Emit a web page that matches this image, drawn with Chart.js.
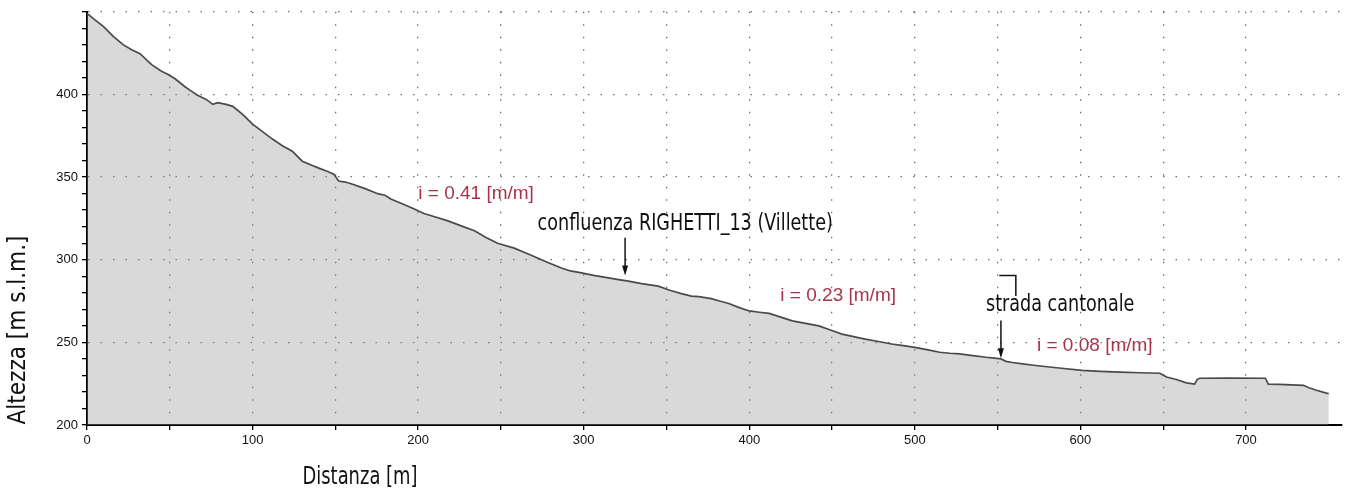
<!DOCTYPE html>
<html>
<head>
<meta charset="utf-8">
<script src="https://cdn.jsdelivr.net/npm/chart.js@4"></script>
<style>
  body { margin: 0; background: #fff; }
  #wrap { width: 1349px; height: 495px; }
</style>
</head>
<body>
<div id="wrap"><canvas id="profilo"></canvas></div>
<script>
const distanza = [0, 5, 10, 16, 22, 27, 32, 39, 45, 49, 53, 59, 63, 67, 72, 76, 79, 84, 88, 94,
  100, 106, 112, 118, 124, 130, 135, 140, 145, 149, 152, 156, 160, 168, 176, 180, 183.5, 190, 197, 203.5,
  210, 218, 226, 234, 241, 248, 258, 264, 270, 278, 286.5, 292, 298.6, 306, 315, 321, 327, 335, 345, 352,
  359, 365, 369.5, 377, 382, 387.6, 394, 400, 406, 412, 419, 426, 434, 442, 449, 456, 463, 470, 478, 486,
  493, 500, 508, 515, 521, 527, 535, 543, 548, 552, 555, 559, 565, 573, 587, 601, 612, 624, 636, 648,
  652, 658, 664, 669, 670.5, 672, 690, 711.7, 713.5, 720, 734.7, 738, 742.6, 748.6, 750];
const altezza = [449, 445, 441, 435, 430, 427, 424.7, 418, 414, 412, 409.6, 404.8, 402, 399.4, 397, 394, 395, 394, 392.8, 388,
  382, 377.5, 373, 369, 365.7, 359.6, 357.5, 355.4, 353.5, 351.8, 347.6, 347, 345.8, 343, 339.8, 339, 336.7, 334, 331, 328,
  326, 323.5, 320.5, 317.5, 313.5, 310, 307, 304.5, 302, 298.5, 295, 293.2, 292, 290.5, 289, 288, 287, 285.5, 284, 281.5,
  279.5, 278, 277.7, 276.5, 275, 273.5, 271, 269, 268.2, 267.5, 265.3, 263, 261.5, 260, 257.5, 255, 253.5, 252, 250.5, 249,
  248, 247, 245.5, 244, 243.4, 243, 242, 241, 240.5, 240, 238.5, 237.8, 237, 236, 234.5, 233, 232.5, 232, 231.6, 231.3,
  229, 227.5, 225.5, 224.7, 227.5, 228.3, 228.4, 228.3, 224.7, 224.6, 224, 222.5, 221, 219.3, 219];

const xTicks = [0, 100, 200, 300, 400, 500, 600, 700];
const yTicks = [200, 250, 300, 350, 400];

// pendenze e note (posizioni in unita' del grafico)
const pendenze = [
  { testo: 'i = 0.41 [m/m]', x: 235, y: 339.8 },
  { testo: 'i = 0.23 [m/m]', x: 453.7, y: 278.3 },
  { testo: 'i = 0.08 [m/m]', x: 608.7, y: 248.2 }
];
const note = [
  { testo: 'confluenza RIGHETTI_13 (Villette)', x: 361.3, y: 321.7 },
  { testo: 'strada cantonale', x: 587.8, y: 272.3 }
];
const frecce = [
  { x: 325, da: 313.3, a: 290.4 },
  { x: 552, da: 263.3, a: 240.4 }
];

const fontNarrow = '"Liberation Sans Narrow", "DejaVu Sans Condensed", "Liberation Sans", sans-serif';

// testo compresso in orizzontale, per imitare il font tecnico del disegno
function testoStretto(ctx, testo, x, y, sx) {
  ctx.save();
  ctx.translate(x, y);
  ctx.scale(sx, 1);
  ctx.fillText(testo, 0, 0);
  ctx.restore();
}

const testiPlugin = {
  id: 'testi',
  afterDraw(chart) {
    const ctx = chart.ctx;
    const xs = chart.scales.x, ys = chart.scales.y;
    ctx.save();
    ctx.textAlign = 'center';
    ctx.textBaseline = 'middle';

    // titoli assi
    ctx.fillStyle = '#111';
    ctx.font = '24px ' + fontNarrow;
    testoStretto(ctx, 'Distanza [m]', 360, 478, 0.83);
    ctx.save();
    ctx.translate(19, 330);
    ctx.rotate(-Math.PI / 2);
    ctx.fillText('Altezza [m s.l.m.]', 0, 0);
    ctx.restore();

    // pendenze
    ctx.fillStyle = '#a8344c';
    ctx.font = '19px "Liberation Sans", Arial, sans-serif';
    pendenze.forEach(p => {
      ctx.fillText(p.testo, xs.getPixelForValue(p.x), ys.getPixelForValue(p.y));
    });

    // note
    ctx.fillStyle = '#111';
    ctx.font = '23px ' + fontNarrow;
    note.forEach(n => {
      testoStretto(ctx, n.testo, xs.getPixelForValue(n.x), ys.getPixelForValue(n.y), 0.85);
    });

    // frecce
    ctx.strokeStyle = '#111';
    ctx.lineWidth = 1.5;
    frecce.forEach(f => {
      const px = xs.getPixelForValue(f.x);
      const y1 = ys.getPixelForValue(f.da), y2 = ys.getPixelForValue(f.a);
      ctx.beginPath();
      ctx.moveTo(px, y1);
      ctx.lineTo(px, y2 - 8);
      ctx.stroke();
      ctx.beginPath();
      ctx.moveTo(px - 3, y2 - 10);
      ctx.lineTo(px + 3, y2 - 10);
      ctx.lineTo(px, y2);
      ctx.closePath();
      ctx.fill();
    });

    // segno sopra "strada cantonale"
    ctx.beginPath();
    ctx.moveTo(xs.getPixelForValue(551), ys.getPixelForValue(290.4));
    ctx.lineTo(xs.getPixelForValue(561), ys.getPixelForValue(290.4));
    ctx.lineTo(xs.getPixelForValue(561), ys.getPixelForValue(278));
    ctx.stroke();
    ctx.restore();
  }
};

const punti = distanza.map((d, i) => ({ x: d, y: altezza[i] }));

new Chart(document.getElementById('profilo'), {
  type: 'line',
  data: {
    datasets: [{
      data: punti,
      borderColor: '#4a4a4a',
      borderWidth: 1.7,
      backgroundColor: 'rgba(150,150,150,0.36)',
      fill: 'start',
      pointRadius: 0,
      tension: 0
    }]
  },
  options: {
    responsive: true,
    maintainAspectRatio: false,
    animation: false,
    layout: { padding: { top: 11, right: 7, left: 0, bottom: 0 } },
    plugins: { legend: { display: false }, tooltip: { enabled: false } },
    scales: {
      x: {
        type: 'linear',
        min: 0,
        max: 758,
        afterBuildTicks: s => { s.ticks = s.ticks.filter(t => t.value % 50 === 0); },
        afterFit: s => { s.height = 70; },
        ticks: {
          stepSize: 50,
          autoSkip: false,
          maxRotation: 0,
          padding: 3,
          color: '#111',
          font: { family: '"Liberation Sans", Arial, sans-serif', size: 13 },
          callback: v => xTicks.includes(v) ? String(v) : ''
        },
        grid: {
          color: c => (c.tick && c.tick.value > 0) ? '#6e6e6e' : 'rgba(0,0,0,0)',
          lineWidth: 1.3,
          tickColor: '#000',
          tickLength: 5
        },
        border: { color: '#000', width: 2, dash: [1.5, 11] }
      },
      y: {
        min: 200,
        max: 450,
        afterFit: s => { s.width = 87; },
        ticks: {
          stepSize: 10,
          autoSkip: false,
          padding: 4,
          color: '#111',
          font: { family: '"Liberation Sans", Arial, sans-serif', size: 13 },
          callback: v => yTicks.includes(v) ? String(v) : ''
        },
        grid: {
          color: c => (c.tick && c.tick.value % 50 === 0 && c.tick.value > 200) ? '#6e6e6e' : 'rgba(0,0,0,0)',
          lineWidth: 1.3,
          tickColor: '#000',
          tickLength: 5
        },
        border: { color: '#000', width: 2, dash: [1.5, 11] }
      }
    }
  },
  plugins: [testiPlugin]
});
</script>
</body>
</html>
